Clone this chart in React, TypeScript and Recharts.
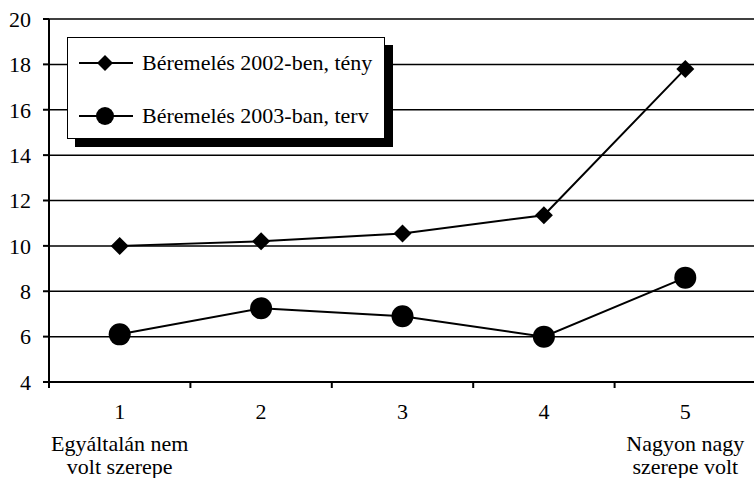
import React from "react";
import {
  LineChart,
  Line,
  XAxis,
  YAxis,
  CartesianGrid,
  Legend,
} from "recharts";

const categories = ["1", "2", "3", "4", "5"];
const teny2002 = [10.0, 10.2, 10.55, 11.35, 17.8];
const terv2003 = [6.1, 7.25, 6.9, 6.0, 8.6];
const yTicks = [4, 6, 8, 10, 12, 14, 16, 18, 20];
const endNotes: Record<string, string[]> = {
  "1": ["Egyáltalán nem", "volt szerepe"],
  "5": ["Nagyon nagy", "szerepe volt"],
};
const seriesNames = ["Béremelés 2002-ben, tény", "Béremelés 2003-ban, terv"];

const data = categories.map((c, i) => ({
  cat: c,
  teny: teny2002[i],
  terv: terv2003[i],
}));

const FONT = "Liberation Serif, Times New Roman, serif";
const FS = 22;
const CHART_W = 756;
const CHART_H = 478;
const Y_AXIS_W = 49;
const HALF_BAND = (CHART_W - Y_AXIS_W) / categories.length / 2;

const diamond = (props: any) => {
  const { cx, cy, index } = props;
  const s = 9;
  return (
    <polygon
      key={`d-${index}`}
      points={`${cx},${cy - s} ${cx + s},${cy} ${cx},${cy + s} ${cx - s},${cy}`}
      fill="#000"
    />
  );
};

const circle = (props: any) => {
  const { cx, cy, index } = props;
  return <circle key={`c-${index}`} cx={cx} cy={cy} r={11} fill="#000" />;
};

// category label + tick mark on the band boundary + end notes
const CategoryTick = (props: any) => {
  const { x, y, payload } = props;
  const notes = endNotes[payload.value] || [];
  return (
    <g>
      <line x1={x - HALF_BAND} x2={x - HALF_BAND} y1={y} y2={y + 6} stroke="#000" strokeWidth={2} />
      <text x={x} y={y + 37} textAnchor="middle" fontSize={FS} style={{ fontFamily: FONT }} fill="#000">
        {payload.value}
      </text>
      {notes.map((t, i) => (
        <text
          key={t}
          x={x}
          y={y + 69 + i * 23}
          textAnchor="middle"
          fontSize={FS}
          style={{ fontFamily: FONT }}
          fill="#000"
        >
          {t}
        </text>
      ))}
    </g>
  );
};

const LegendBox = () => {
  const rows = [
    { name: seriesNames[0], marker: "diamond" },
    { name: seriesNames[1], marker: "circle" },
  ];
  return (
    <div style={{ position: "relative", width: 318, height: 102 }}>
      <div
        style={{
          position: "absolute",
          left: 8,
          top: 8,
          width: 318,
          height: 102,
          background: "#000",
        }}
      />
      <div
        style={{
          position: "absolute",
          left: 0,
          top: 0,
          width: 316,
          height: 100,
          background: "#fff",
          border: "1px solid #000",
        }}
      >
        {rows.map((r, i) => (
          <div
            key={r.name}
            style={{
              position: "absolute",
              left: 11,
              top: 25 + i * 53 - 14,
              height: 28,
              display: "flex",
              alignItems: "center",
              whiteSpace: "nowrap",
            }}
          >
            <svg width={54} height={28} style={{ marginRight: 9 }}>
              <line x1={0} x2={54} y1={14} y2={14} stroke="#000" strokeWidth={2} />
              {r.marker === "diamond" ? (
                <polygon points="26,6 34,14 26,22 18,14" fill="#000" />
              ) : (
                <circle cx={26} cy={14} r={9} fill="#000" />
              )}
            </svg>
            <span style={{ fontFamily: FONT, fontSize: FS, color: "#000" }}>{r.name}</span>
          </div>
        ))}
      </div>
    </div>
  );
};

export default function App() {
  return (
    <div
      style={{
        position: "absolute",
        left: 0,
        top: 0,
        width: 754,
        height: 478,
        overflow: "hidden",
        background: "#fff",
      }}
    >
      <LineChart
        width={CHART_W}
        height={CHART_H}
        data={data}
        margin={{ top: 19, right: 0, left: 0, bottom: 0 }}
      >
        <CartesianGrid vertical={false} stroke="#000" strokeWidth={1.5} />
        <XAxis
          dataKey="cat"
          type="category"
          scale="band"
          height={96}
          axisLine={{ stroke: "#000", strokeWidth: 2 }}
          tickLine={false}
          tickSize={0}
          tickMargin={0}
          interval={0}
          tick={<CategoryTick />}
        />
        <YAxis
          width={Y_AXIS_W}
          domain={[4, 20]}
          ticks={yTicks}
          interval={0}
          axisLine={{ stroke: "#000", strokeWidth: 2 }}
          tickLine={{ stroke: "#000", strokeWidth: 2 }}
          tickSize={6}
          tickMargin={12}
          tick={{ fill: "#000", fontSize: FS, fontFamily: FONT }}
        />
        <Legend
          layout="vertical"
          align="center"
          verticalAlign="middle"
          wrapperStyle={{ left: 67, top: 37, width: 330, height: 112 }}
          content={() => <LegendBox />}
        />
        <Line
          dataKey="teny"
          name={seriesNames[0]}
          stroke="#000"
          strokeWidth={2}
          dot={diamond}
          activeDot={false}
          isAnimationActive={false}
        />
        <Line
          dataKey="terv"
          name={seriesNames[1]}
          stroke="#000"
          strokeWidth={2}
          dot={circle}
          activeDot={false}
          isAnimationActive={false}
        />
      </LineChart>
    </div>
  );
}
